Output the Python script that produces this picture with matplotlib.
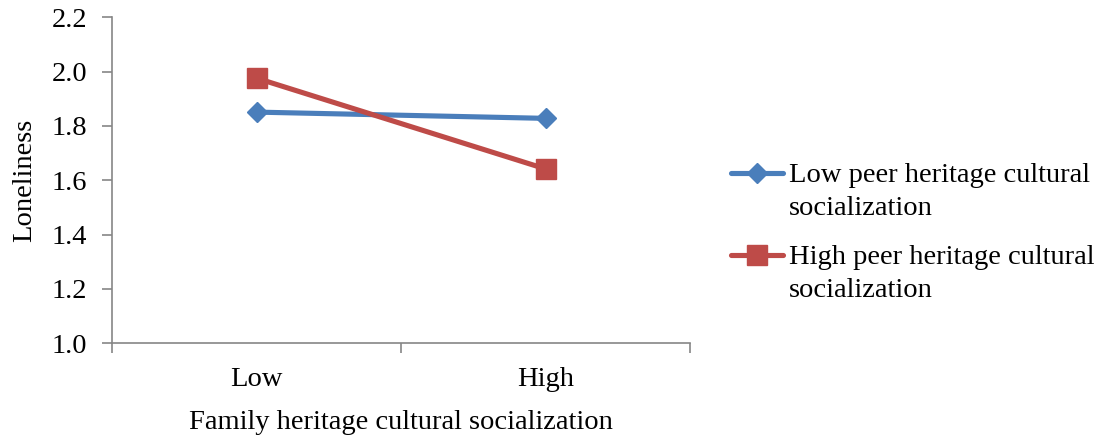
import matplotlib.pyplot as plt
from matplotlib.lines import Line2D

# Data
categories = ['Low', 'High']
series_names = [['Low peer heritage cultural', 'socialization'],
                ['High peer heritage cultural', 'socialization']]
low_peer = [1.851, 1.828]
high_peer = [1.976, 1.642]
y_ticks = [1.0, 1.2, 1.4, 1.6, 1.8, 2.0, 2.2]

blue = '#4A7EBB'
red = '#BE4B48'
grey = '#868686'

plt.rcParams['font.family'] = ['Liberation Serif', 'DejaVu Serif']
plt.rcParams['font.size'] = 20.5

W, H = 1107, 438
fig = plt.figure(figsize=(W / 100, H / 100), dpi=100)
ax = fig.add_axes([112 / W, 1 - 343.3 / H, (690 - 112) / W, 326 / H])

x = list(range(len(categories)))
ax.plot(x, low_peer, color=blue, lw=3.7, marker='D', ms=10.5, mfc=blue, mec=blue,
        solid_capstyle='round')
ax.plot(x, high_peer, color=red, lw=3.7, marker='s', ms=14, mfc=red, mec=red,
        solid_capstyle='round')

ax.set_xlim(-0.5, len(categories) - 0.5)
ax.set_ylim(1.0, 2.2)
ax.set_yticks(y_ticks)
ax.set_yticklabels([f'{v:.1f}' for v in y_ticks])
ax.set_xticks(x)
ax.set_xticklabels(categories)
ax.set_xticks([i - 0.5 for i in range(len(categories) + 1)], minor=True)
ax.tick_params(axis='x', which='major', length=0, pad=17)
ax.tick_params(axis='x', which='minor', length=7, width=1.2, color=grey)
ax.tick_params(axis='y', length=7, width=1.2, color=grey, pad=11)

for s in ['top', 'right']:
    ax.spines[s].set_visible(False)
for s in ['left', 'bottom']:
    ax.spines[s].set_color(grey)
    ax.spines[s].set_linewidth(1.2)

ax.set_xlabel('Family heritage cultural socialization', labelpad=13)
ax.set_ylabel('Loneliness', labelpad=10)

# legend, handle level with the first text line
legend_rows = [(173, blue, 'D', 10.5), (255, red, 's', 14)]
for (ypix, col, mk, ms), lines in zip(legend_rows, series_names):
    yf = 1 - ypix / H
    fig.add_artist(Line2D([731 / W, 783 / W], [yf, yf], color=col, lw=3.7,
                          solid_capstyle='round', transform=fig.transFigure))
    fig.add_artist(Line2D([757 / W], [yf], color=col, marker=mk, ms=ms,
                          mfc=col, mec=col, transform=fig.transFigure))
    for k, line in enumerate(lines):
        base = ypix + 9 + 33 * k
        fig.text(789 / W, 1 - base / H, line, ha='left', va='baseline')

fig.savefig('out.png', dpi=100)
